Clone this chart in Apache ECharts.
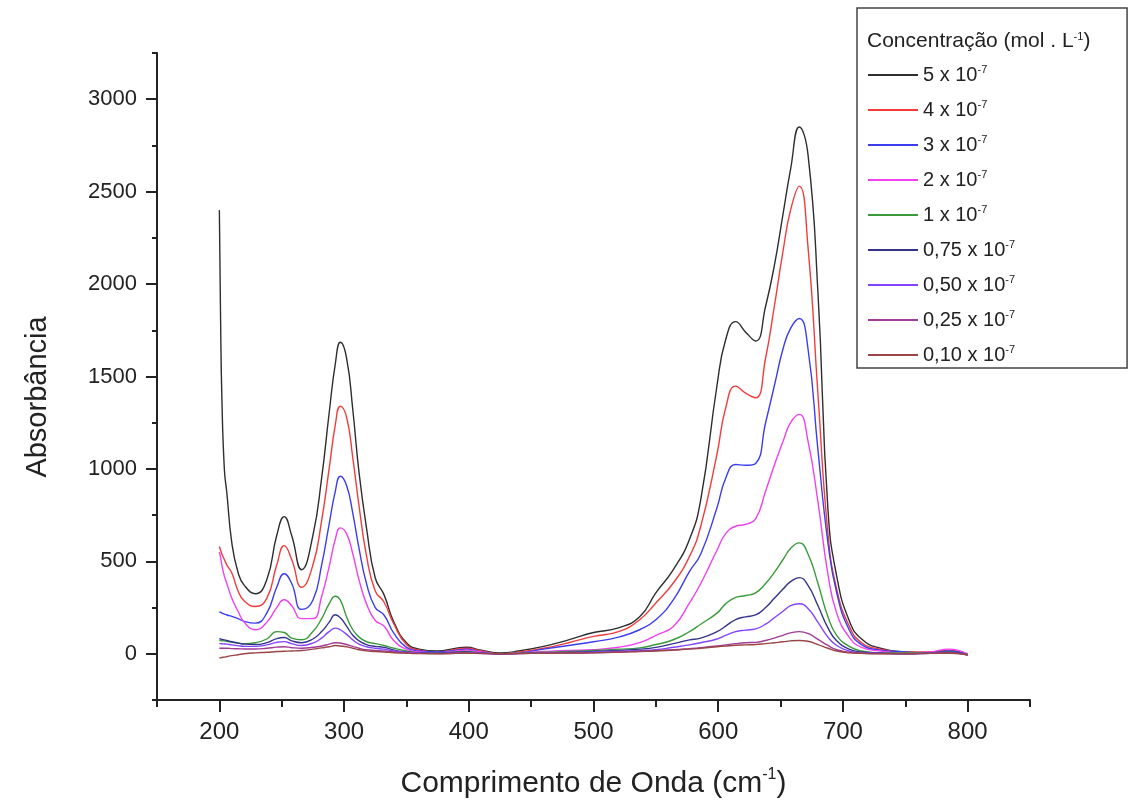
<!DOCTYPE html>
<html>
<head>
<meta charset="utf-8">
<script src="https://cdn.jsdelivr.net/npm/echarts@6/dist/echarts.min.js"></script>
<style>
  html, body { margin: 0; padding: 0; background: #fff; }
  #chart { width: 1133px; height: 809px; }
</style>
</head>
<body>
<div id="chart"></div>
<script>
// comprimento de onda (eixo x)
const wavelengths = [200, 201, 202, 204, 206, 210, 215, 220, 229, 238, 246, 252, 258, 266, 275, 282, 288, 293, 297, 302, 307, 312, 318, 325, 332, 340, 350, 360, 375, 390, 398, 410, 425, 440, 460, 480, 500, 520, 537, 550, 564, 577, 586, 599, 606, 614, 622, 630, 638, 645, 652, 658, 665, 672, 680, 688, 695, 705, 715, 730, 750, 770, 785, 800]

// absorbancia por concentracao
const c500 = [2400, 1800, 1390, 1000, 870, 600, 440, 370, 325, 400, 640, 742, 640, 455, 640, 950, 1300, 1570, 1685, 1600, 1320, 980, 680, 410, 320, 170, 60, 25, 15, 30, 35, 20, 5, 15, 40, 75, 115, 140, 200, 330, 455, 620, 834, 1450, 1700, 1797, 1740, 1692, 1880, 2100, 2380, 2620, 2850, 2700, 1950, 780, 420, 180, 80, 30, 10, 5, 10, -5]
const c400 = [580, 560, 540, 510, 480, 437, 340, 285, 256, 300, 480, 585, 510, 360, 480, 720, 1000, 1240, 1340, 1280, 1060, 800, 530, 340, 280, 160, 50, 20, 10, 25, 30, 15, 0, 10, 30, 60, 94, 120, 184, 275, 383, 527, 690, 1080, 1330, 1448, 1410, 1385, 1600, 1880, 2180, 2400, 2530, 2200, 1400, 650, 350, 150, 60, 25, 10, 10, 20, -5]
const c300 = [225, 225, 220, 215, 210, 202, 190, 175, 166, 220, 360, 433, 380, 240, 290, 480, 700, 880, 960, 910, 760, 570, 380, 250, 210, 110, 35, 15, 10, 20, 25, 10, 0, 5, 25, 45, 65, 90, 130, 184, 292, 446, 540, 790, 950, 1024, 1020, 1030, 1250, 1450, 1650, 1760, 1814, 1650, 1100, 600, 330, 130, 50, 20, 10, 5, 15, -5]
const c200 = [550, 520, 480, 420, 380, 300, 230, 170, 130, 170, 250, 292, 260, 190, 190, 310, 470, 620, 681, 650, 540, 400, 270, 180, 150, 70, 25, 10, 5, 15, 20, 10, 0, 5, 12, 18, 22, 35, 60, 100, 148, 275, 380, 560, 650, 690, 700, 730, 880, 1020, 1150, 1250, 1295, 1150, 820, 430, 220, 90, 35, 15, 5, 10, 25, 0]
const c100 = [72, 72, 70, 70, 68, 62, 58, 55, 60, 80, 120, 115, 85, 76, 120, 190, 270, 311, 290, 200, 130, 90, 65, 55, 45, 30, 15, 5, 5, 10, 12, 5, 0, 3, 8, 12, 18, 25, 32, 50, 76, 120, 160, 220, 270, 305, 315, 330, 380, 440, 510, 570, 600, 540, 380, 200, 100, 40, 15, 5, 5, 5, 10, -5]
const c075 = [82, 80, 78, 75, 72, 65, 58, 52, 50, 60, 82, 88, 70, 60, 80, 120, 170, 211, 195, 150, 100, 70, 50, 40, 35, 20, 10, 5, 3, 8, 10, 5, 0, 2, 5, 8, 12, 18, 25, 35, 55, 75, 85, 120, 150, 185, 200, 210, 250, 300, 350, 390, 412, 370, 260, 140, 70, 25, 10, 5, 0, 5, 8, -5]
const c050 = [55, 55, 54, 53, 52, 48, 44, 40, 40, 48, 62, 66, 55, 45, 58, 85, 120, 139, 130, 105, 75, 52, 38, 30, 25, 15, 8, 3, 2, 5, 6, 3, 0, 1, 4, 6, 10, 14, 18, 22, 35, 48, 60, 80, 100, 120, 128, 135, 160, 195, 230, 260, 271, 245, 170, 90, 45, 15, 5, 2, 0, 3, 5, -5]
const c025 = [30, 30, 30, 30, 30, 28, 27, 26, 26, 30, 36, 38, 33, 30, 35, 42, 52, 60, 58, 50, 40, 30, 22, 18, 15, 10, 5, 2, 1, 3, 4, 2, 0, 1, 3, 4, 6, 10, 14, 18, 22, 28, 33, 42, 48, 55, 60, 62, 72, 85, 100, 113, 120, 110, 78, 45, 22, 8, 3, 1, 0, 2, 4, -5]
const c010 = [-23, -22, -20, -18, -15, -10, -5, 0, 5, 8, 12, 14, 15, 18, 25, 32, 38, 45, 42, 38, 30, 22, 16, 12, 10, 6, 3, 1, 0, 2, 3, 1, 0, 1, 3, 4, 5, 8, 12, 15, 20, 25, 30, 38, 42, 46, 48, 50, 55, 60, 65, 70, 72, 68, 50, 30, 15, 5, 2, 0, 0, 2, 3, -5]

const coefs = ['5', '4', '3', '2', '1', '0,75', '0,50', '0,25', '0,10']
const values = [c500, c400, c300, c200, c100, c075, c050, c025, c010]
const colors = ['#2e2e2e', '#f23c3c', '#3c3cf0', '#f040f0', '#3a9a3a', '#34348c', '#8444ff', '#a03c96', '#9a4646']

const xLabels = [200, 300, 400, 500, 600, 700, 800]
const xMinor = [150, 250, 350, 450, 550, 650, 750, 850]
const yLabels = [0, 500, 1000, 1500, 2000, 2500, 3000]
const yMinor = [-250, 250, 750, 1250, 1750, 2250, 2750, 3250]

const font = '"Liberation Sans", Arial, sans-serif'

const chart = echarts.init(document.getElementById('chart'), null, { renderer: 'canvas' })

const series = coefs.map((c, i) => ({
  name: c + ' x 10-7',
  type: 'line',
  xAxisIndex: 0,
  yAxisIndex: 0,
  symbol: 'none',
  smooth: 0.5,
  lineStyle: { width: 1.4, color: colors[i] },
  itemStyle: { color: colors[i] },
  data: wavelengths.map((w, j) => [w, values[i][j]]),
}))

const option = {
  animation: false,
  backgroundColor: '#fff',
  grid: { left: 157, right: 103, top: 53, bottom: 109, containLabel: false },
  title: {
    text: 'Concentração (mol . L{s|-1})',
    left: 867,
    top: 31,
    padding: 0,
    z: 10,
    textStyle: {
      fontFamily: font,
      fontSize: 21,
      fontWeight: 'normal',
      color: '#222',
      rich: {
        s: { fontFamily: font, fontSize: 11, color: '#222', verticalAlign: 'top', lineHeight: 11 },
      },
    },
  },
  legend: {
    orient: 'vertical',
    left: 857,
    top: 8,
    padding: [56, 112, 3, 10],
    itemWidth: 50,
    itemHeight: 14,
    itemGap: 14,
    backgroundColor: '#fff',
    borderColor: '#444',
    borderWidth: 1.5,
    z: 5,
    itemStyle: { opacity: 0 },
    data: series.map((s) => s.name),
    formatter: (name) => '{n|' + name.replace(' x 10-7', ' x 10') + '}{s|-7}',
    textStyle: {
      color: '#222',
      fontFamily: font,
      rich: {
        n: { fontFamily: font, fontSize: 20, color: '#222', lineHeight: 22 },
        s: { fontFamily: font, fontSize: 11, color: '#222', verticalAlign: 'top', lineHeight: 11 },
      },
    },
  },
  graphic: [
    {
      type: 'text',
      x: 38,
      y: 397,
      rotation: Math.PI / 2,
      style: {
        text: 'Absorbância',
        font: '29px ' + font,
        fill: '#222',
        align: 'center',
        verticalAlign: 'middle',
      },
    },
  ],
  xAxis: [
    {
      type: 'value',
      min: 150,
      max: 850,
      position: 'bottom',
      name: '{a|Comprimento de Onda (cm}{s|-1}{a|)}',
      nameLocation: 'middle',
      nameGap: 67,
      nameTextStyle: {
        rich: {
          a: { fontFamily: font, fontSize: 30, color: '#222', lineHeight: 34 },
          s: { fontFamily: font, fontSize: 16, color: '#222', verticalAlign: 'top', lineHeight: 15 },
        },
      },
      axisLine: { show: true, onZero: false, lineStyle: { color: '#222', width: 2 } },
      axisTick: { show: true, customValues: xLabels, length: 12, lineStyle: { color: '#222', width: 2 } },
      axisLabel: { customValues: xLabels, margin: 20, fontFamily: font, fontSize: 24, color: '#222' },
      splitLine: { show: false },
    },
    {
      type: 'value',
      min: 150,
      max: 850,
      position: 'bottom',
      axisLine: { show: false, onZero: false },
      axisTick: { show: true, customValues: xMinor, length: 7, lineStyle: { color: '#222', width: 2 } },
      axisLabel: { show: false },
      splitLine: { show: false },
    },
  ],
  yAxis: [
    {
      type: 'value',
      min: -250,
      max: 3250,
      position: 'left',
      axisLine: { show: true, onZero: false, lineStyle: { color: '#222', width: 2 } },
      axisTick: { show: true, customValues: yLabels, length: 11, lineStyle: { color: '#222', width: 2 } },
      axisLabel: {
        customValues: yLabels,
        margin: 20,
        fontFamily: font,
        fontSize: 22,
        color: '#222',
        formatter: (v) => String(v),
      },
      splitLine: { show: false },
    },
    {
      type: 'value',
      min: -250,
      max: 3250,
      position: 'left',
      axisLine: { show: false, onZero: false },
      axisTick: { show: true, customValues: yMinor, length: 5, lineStyle: { color: '#222', width: 2 } },
      axisLabel: { show: false },
      splitLine: { show: false },
    },
  ],
  series: series,
}

chart.setOption(option)
</script>
</body>
</html>
